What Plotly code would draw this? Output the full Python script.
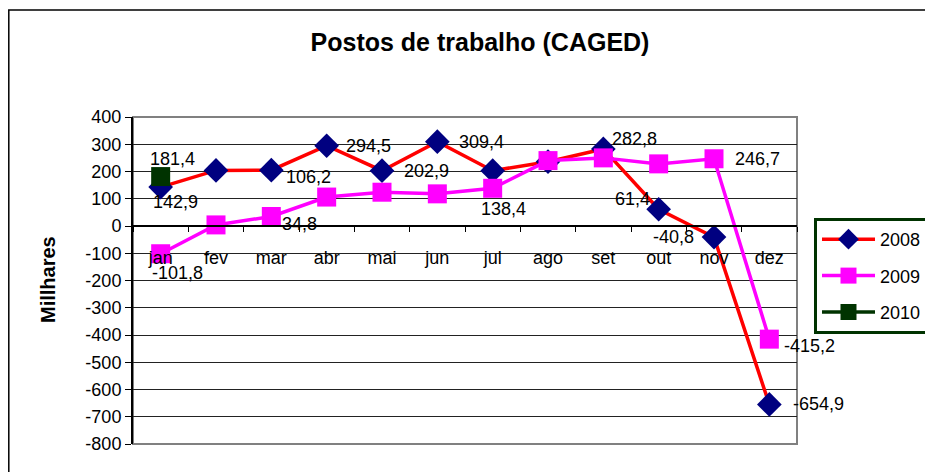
import plotly.graph_objects as go

months = ["jan", "fev", "mar", "abr", "mai", "jun", "jul", "ago", "set", "out", "nov", "dez"]
v2008 = [142.9, 204.0, 205.0, 294.5, 202.9, 309.4, 203.0, 236.0, 282.8, 61.4, -40.8, -654.9]
v2009 = [-101.8, 4.0, 34.8, 106.2, 124.0, 118.0, 138.4, 240.0, 250.0, 228.0, 246.7, -415.2]
v2010 = [181.4]
months2010 = ["jan"]

# data labels: (month, value, text, xshift, yshift)
labels = [
    ("jan", 181.4, "181,4", 12, 18),
    ("jan", 142.9, "142,9", 15, -15),
    ("jan", -101.8, "-101,8", 17, -19),
    ("mar", 34.8, "34,8", 28, -7),
    ("abr", 106.2, "106,2", -18, 20),
    ("abr", 294.5, "294,5", 42, 0),
    ("mai", 202.9, "202,9", 44, 0),
    ("jun", 309.4, "309,4", 44, 0),
    ("jul", 138.4, "138,4", 11, -21),
    ("set", 282.8, "282,8", 31, 10),
    ("out", 61.4, "61,4", -26, 10),
    ("nov", -40.8, "-40,8", -41, 0),
    ("nov", 246.7, "246,7", 43, 0),
    ("dez", -415.2, "-415,2", 40, -7),
    ("dez", -654.9, "-654,9", 49, 0),
]

yticks = list(range(-800, 401, 100))
FONT = "Liberation Sans, Arial, sans-serif"
FS = 18

fig = go.Figure()
fig.add_trace(go.Scatter(x=months, y=v2008, name="2008", mode="lines+markers", legendgroup="a",
                         line=dict(color="#FF0000", width=3.5),
                         marker=dict(symbol="diamond", size=19, color="#000080")))
fig.add_trace(go.Scatter(x=months, y=v2009, name="2009", mode="lines+markers", legendgroup="b",
                         line=dict(color="#FF00FF", width=3.5),
                         marker=dict(symbol="square", size=19, color="#FF00FF")))
fig.add_trace(go.Scatter(x=months2010, y=v2010, name="2010", mode="lines+markers", legendgroup="c",
                         line=dict(color="#003300", width=3.5),
                         marker=dict(symbol="square", size=19, color="#003300")))

for m, v, t, xs, ys in labels:
    fig.add_annotation(x=m, y=v, text=t, showarrow=False, xshift=xs, yshift=ys,
                       font=dict(family=FONT, size=FS, color="#000"))

fig.add_annotation(text="<b>Millhares</b>", textangle=-90, showarrow=False,
                   xref="paper", yref="paper", xanchor="center", yanchor="middle",
                   x=(48 - 133) / 664, y=(444 - 280) / 327,
                   font=dict(family=FONT, size=20, color="#000"))

# plot area border
fig.add_shape(type="rect", xref="paper", yref="paper", x0=0, x1=1, y0=0, y1=1,
              line=dict(color="#808080", width=2), layer="below")
# outer chart border
fig.add_shape(type="rect", xref="paper", yref="paper",
              x0=(8.8 - 133) / 664, x1=(960 - 133) / 664,
              y0=(444 - 500) / 327, y1=(444 - 10) / 327,
              line=dict(color="#000", width=1.5), layer="below")

fig.update_layout(
    width=933, height=472,
    margin=dict(l=125, r=144, t=109, b=36),
    paper_bgcolor="white", plot_bgcolor="white",
    title=dict(text="<b>Postos de trabalho (CAGED)</b>", x=472 / 933, xanchor="center",
               y=1 - 34 / 472, yanchor="middle",
               font=dict(family=FONT, size=25, color="#000")),
    font=dict(family=FONT, size=FS, color="#000"),
    showlegend=True,
    legend=dict(x=(814 - 133) / 664, xanchor="left", y=(444 - 218) / 327, yanchor="top",
                bordercolor="#003300", borderwidth=3, bgcolor="white",
                font=dict(family=FONT, size=FS, color="#000"),
                tracegroupgap=10, itemwidth=53),
    xaxis=dict(type="category", categoryorder="array", categoryarray=months,
               range=[-0.5, 11.5], anchor="free", position=800 / 1200,
               showline=True, linecolor="#000", linewidth=1.5,
               ticks="outside", ticklen=5, tickcolor="#000", tickson="boundaries",
               ticklabelstandoff=16, showgrid=False, zeroline=False,
               tickfont=dict(family=FONT, size=FS, color="#000")),
    yaxis=dict(range=[-800, 400], tickvals=yticks, ticktext=[str(v) for v in yticks],
               showline=True, linecolor="#000", linewidth=2,
               ticks="outside", ticklen=6, tickcolor="#000",
               showgrid=True, gridcolor="#222", gridwidth=1, zeroline=False,
               tickfont=dict(family=FONT, size=FS, color="#000")),
)

fig.write_html("out.html")
